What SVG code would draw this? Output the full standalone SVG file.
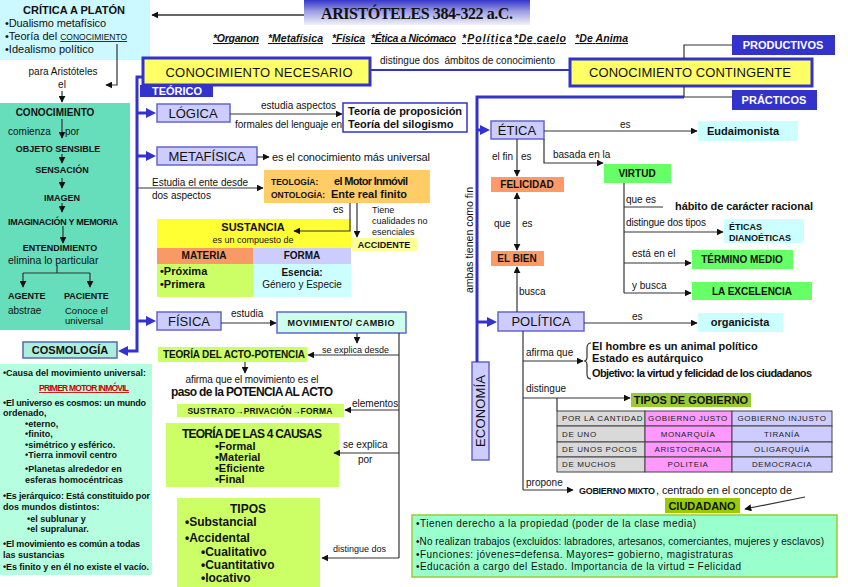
<svg xmlns="http://www.w3.org/2000/svg" width="848" height="587" viewBox="0 0 848 587">
<defs>
<style>
text{font-family:"Liberation Sans",Arial,sans-serif;fill:#111;font-size:10px}
.b{font-weight:bold}
.m{text-anchor:middle}
.ln{fill:none;stroke:#333;stroke-width:1.2}
.bl{fill:none;stroke:#3333cc;stroke-width:3}
.lav{fill:#ccccff;stroke:#6666cc;stroke-width:1.5}
.yel{fill:#ffff66;stroke:#3333cc;stroke-width:3}
.dk{fill:#3333cc}
.wt{fill:#fff;font-weight:bold;font-size:11px}
.cy{fill:#ccffff}
.lg{fill:#ccff66}
.gr{fill:#66ff66}
.sa{fill:#ff9966}
.big{font-size:13px}
.ck{font-size:9px;font-weight:bold}
.tb{font-size:8px;letter-spacing:0.6px;fill:#222}
.it{font-size:10.5px;font-weight:bold;font-style:italic;text-decoration:underline}
.cs{font-size:9px;font-weight:bold}
</style>
<marker id="ah" viewBox="0 0 10 10" refX="9" refY="5" markerWidth="7" markerHeight="7" markerUnits="userSpaceOnUse" orient="auto"><path d="M0,0 L10,5 L0,10 z" fill="#111"/></marker>
<marker id="ah2" viewBox="0 0 10 10" refX="9" refY="5" markerWidth="7" markerHeight="7" markerUnits="userSpaceOnUse" orient="auto-start-reverse"><path d="M0,0 L10,5 L0,10 z" fill="#111"/></marker>
<marker id="bh" viewBox="0 0 10 10" refX="3" refY="5" markerWidth="10" markerHeight="10" markerUnits="userSpaceOnUse" orient="auto"><path d="M0,0 L10,5 L0,10 z" fill="#3333cc"/></marker>
<linearGradient id="tg" x1="0" y1="0" x2="0" y2="1"><stop offset="0" stop-color="#3535cc"/><stop offset="0.45" stop-color="#9c9ce2"/><stop offset="1" stop-color="#f2f2f8"/></linearGradient>
</defs>
<rect width="848" height="587" fill="#fff"/>

<g id="critica">
<rect x="0" y="0" width="150" height="60" fill="#ccf8ff"/>
<text x="74" y="14" class="m b" style="font-size:11px">CRÍTICA A PLATÓN</text>
<text x="5" y="27" style="font-size:11px" textLength="101">•Dualismo metafísico</text>
<text x="5" y="40" style="font-size:11px">•Teoría del <tspan style="font-size:8.5px;text-decoration:underline">CONOCIMIENTO</tspan></text>
<text x="5" y="53" style="font-size:11px">•Idealismo político</text>
</g>
<g id="title">
<rect x="304" y="0" width="226" height="25" fill="url(#tg)"/>
<text x="417" y="19" class="m b" style="font-family:'Liberation Serif','Times New Roman',serif;font-size:16px" textLength="192">ARISTÓTELES 384-322 a.C.</text>
</g>
<g id="obras">
<text x="213" y="42" class="it" textLength="46">*Organon</text>
<text x="268" y="42" class="it" textLength="55">*Metafísica</text>
<text x="332" y="42" class="it" textLength="33">*Física</text>
<text x="371" y="42" class="it" textLength="85">*Ética a Nicómaco</text>
<text x="462" y="42" class="it" textLength="50">*Política</text>
<text x="514" y="42" class="it" textLength="52">*De caelo</text>
<text x="575" y="42" class="it" textLength="53">*De Anima</text>
</g>
<g id="para">
<text x="63" y="75" class="m">para Aristóteles</text>
<text x="62" y="88" class="m">el</text>
</g>
<g id="conocimiento">
<rect x="0" y="103" width="130" height="227" fill="#66ddbb"/>
<text x="55" y="116" class="m b">CONOCIMIENTO</text>
<text x="8" y="135">comienza</text>
<text x="65" y="135">por</text>
<text x="58" y="152" class="m ck">OBJETO SENSIBLE</text>
<text x="62" y="173" class="m ck">SENSACIÓN</text>
<text x="62" y="201" class="m ck">IMAGEN</text>
<text x="63" y="225" class="m ck" textLength="110">IMAGINACIÓN Y MEMORIA</text>
<text x="60" y="251" class="m ck">ENTENDIMIENTO</text>
<text x="8" y="264" style="font-size:10.5px">elimina lo particular</text>
<text x="8" y="299" class="ck">AGENTE</text>
<text x="64" y="299" class="ck">PACIENTE</text>
<text x="8" y="314">abstrae</text>
<text x="65" y="314" style="font-size:9.5px">Conoce el</text>
<text x="65" y="324" style="font-size:9.5px">universal</text>
</g>
<g id="cosmologia">
<rect x="23" y="342" width="94" height="16" fill="#aaeedd" stroke="#5a6aa8" stroke-width="1.5"/>
<text x="70" y="354" class="m b" style="font-size:11px">COSMOLOGÍA</text>
</g>
<g id="cosmologia-texto">
<rect x="0" y="364" width="152" height="211" fill="#b5ffe0"/>
<text x="3" y="376" class="cs" textLength="143">•Causa del movimiento universal:</text>
<text x="84" y="391" class="m cs" style="fill:#cc0000;text-decoration:underline;font-size:8.5px" textLength="90">PRIMER MOTOR INMÓVIL</text>
<text x="3" y="406" class="cs" textLength="143">•El universo es cosmos: un mundo</text>
<text x="3" y="416" class="cs">ordenado,</text>
<text x="25" y="427" class="cs">•eterno,</text>
<text x="25" y="437" class="cs">•finito,</text>
<text x="25" y="448" class="cs">•simétrico y esférico.</text>
<text x="25" y="458" class="cs">•Tierra inmovil centro</text>
<text x="25" y="472" class="cs">•Planetas alrededor en</text>
<text x="25" y="483" class="cs">esferas homocéntricas</text>
<text x="3" y="499" class="cs" textLength="147">•Es jerárquico: Está constituido por</text>
<text x="3" y="510" class="cs">dos mundos distintos:</text>
<text x="27" y="522" class="cs">•el sublunar y</text>
<text x="27" y="532" class="cs">•el supralunar.</text>
<text x="3" y="547" class="cs" textLength="137">•El movimiento es común a todas</text>
<text x="3" y="558" class="cs">las sustancias</text>
<text x="3" y="570" class="cs" textLength="146">•Es finito y en él no existe el vacío.</text>
</g>

<g id="necesario">
<rect x="143" y="58" width="227" height="27" class="yel"/>
<text x="259" y="77" class="m big" textLength="187">CONOCIMIENTO NECESARIO</text>
</g>
<g id="teorico">
<rect x="140" y="85" width="73" height="12" class="dk"/>
<text x="177" y="95" class="m wt">TEÓRICO</text>
</g>
<text x="380" y="64" textLength="175" xml:space="preserve">distingue dos  ámbitos de conocimiento</text>
<g id="contingente">
<rect x="570" y="59" width="242" height="27" class="yel"/>
<text x="690" y="77" class="m big" textLength="202">CONOCIMIENTO CONTINGENTE</text>
</g>
<g id="productivos">
<rect x="732" y="35" width="103" height="20" class="dk"/>
<text x="783" y="49" class="m wt">PRODUCTIVOS</text>
</g>
<g id="practicos">
<rect x="732" y="90" width="85" height="20" class="dk"/>
<text x="774" y="104" class="m wt">PRÁCTICOS</text>
</g>

<g id="logica">
<rect x="157" y="104" width="73" height="18" class="lav"/>
<text x="193" y="118" class="m big">LÓGICA</text>
<text x="261" y="109">estudia aspectos</text>
<text x="235" y="128" textLength="107">formales del lenguaje en</text>
</g>
<g id="teorias">
<rect x="343" y="103" width="124" height="29" fill="#fff" stroke="#3333cc" stroke-width="1.5"/>
<text x="348" y="115" class="b" style="font-size:11px">Teoría de proposición</text>
<text x="348" y="128" class="b" style="font-size:11px">Teoría del silogismo</text>
</g>
<g id="metafisica">
<rect x="157" y="147" width="100" height="18" class="lav"/>
<text x="207" y="161" class="m big">METAFÍSICA</text>
<text x="272" y="161" style="font-size:11px" textLength="158">es el conocimiento más universal</text>
<text x="152" y="186">Estudia el ente desde</text>
<text x="152" y="199">dos aspectos</text>
</g>
<g id="teologia">
<rect x="264" y="170" width="166" height="33" fill="#ffcc66"/>
<text x="271" y="185" class="b" style="font-size:8.5px">TEOLOGÍA:</text>
<text x="334" y="185" class="b" style="font-size:11px" textLength="74">el Motor Inmóvil</text>
<text x="271" y="198" class="b" style="font-size:8.5px">ONTOLOGÍA:</text>
<text x="331" y="198" class="b" style="font-size:11px" textLength="76">Ente real finito</text>
<text x="333" y="213">es</text>
<text x="372" y="213" style="font-size:9px">Tiene</text>
<text x="372" y="224" style="font-size:9px">cualidades no</text>
<text x="372" y="235" style="font-size:9px">esenciales</text>
</g>
<g id="accidente">
<rect x="352" y="238" width="65" height="13" fill="#ffff99"/>
<text x="384" y="248" class="m ck">ACCIDENTE</text>
</g>
<g id="sustancia">
<rect x="157" y="219" width="194" height="29" fill="#ffff33"/>
<text x="253" y="231" class="m b" style="font-size:11px">SUSTANCIA</text>
<text x="253" y="243" class="m" style="font-size:9px">es un compuesto de</text>
<rect x="157" y="248" width="96" height="16" fill="#f99a66"/>
<text x="204" y="259" class="m b">MATERIA</text>
<rect x="253" y="248" width="98" height="16" fill="#ccccff"/>
<text x="302" y="259" class="m b">FORMA</text>
<rect x="157" y="264" width="96" height="33" class="lg"/>
<text x="160" y="275" class="b" style="font-size:11px">•Próxima</text>
<text x="160" y="288" class="b" style="font-size:11px">•Primera</text>
<rect x="253" y="264" width="98" height="33" class="cy"/>
<text x="302" y="276" class="m b">Esencia:</text>
<text x="302" y="288" class="m">Género y Especie</text>
</g>

<g id="fisica">
<rect x="157" y="312" width="64" height="18" class="lav"/>
<text x="189" y="326" class="m big">FÍSICA</text>
<text x="231" y="317">estudia</text>
</g>
<g id="movimiento">
<rect x="277" y="312" width="129" height="21" fill="#ccffee" stroke="#6666cc" stroke-width="1.5"/>
<text x="341" y="326" class="m ck" textLength="107">MOVIMIENTO/ CAMBIO</text>
<text x="322" y="353" style="font-size:9px">se explica desde</text>
<text x="352" y="407">elementos</text>
<text x="343" y="448">se explica</text>
<text x="358" y="463">por</text>
<text x="333" y="552" style="font-size:9px">distingue dos</text>
</g>
<g id="acto-potencia">
<rect x="158" y="347" width="149" height="15" class="lg"/>
<text x="163" y="358" class="b" textLength="142">TEORÍA DEL ACTO-POTENCIA</text>
<text x="252" y="383" class="m" textLength="133">afirma que el movimiento es el</text>
<text x="252" y="396" class="m b" style="font-size:12px" textLength="162">paso de la POTENCIA AL ACTO</text>
</g>
<g id="sustrato">
<rect x="177" y="404" width="167" height="13" class="lg"/>
<text x="260" y="414" class="m b" style="font-size:8.5px" textLength="145">SUSTRATO→PRIVACIÓN→FORMA</text>
</g>
<g id="causas">
<rect x="166" y="423" width="173" height="64" class="lg"/>
<text x="252" y="438" class="m b" style="font-size:12px" textLength="140">TEORÍA DE LAS 4 CAUSAS</text>
<text x="215" y="450" class="b" style="font-size:11px">•Formal</text>
<text x="215" y="461" class="b" style="font-size:11px">•Material</text>
<text x="215" y="472" class="b" style="font-size:11px">•Eficiente</text>
<text x="215" y="483" class="b" style="font-size:11px">•Final</text>
</g>
<g id="tipos">
<rect x="177" y="498" width="143" height="89" class="lg"/>
<text x="248" y="513" class="m b" style="font-size:12px">TIPOS</text>
<text x="185" y="526" class="b" style="font-size:12px">•Substancial</text>
<text x="185" y="542" class="b" style="font-size:12px">•Accidental</text>
<text x="201" y="556" class="b" style="font-size:12px">•Cualitativo</text>
<text x="201" y="569" class="b" style="font-size:12px">•Cuantitativo</text>
<text x="201" y="582" class="b" style="font-size:12px">•locativo</text>
</g>

<text transform="translate(473,240) rotate(-90)" class="m" style="font-size:10.5px" textLength="106">ambas tienen como fin</text>
<g id="etica">
<rect x="491" y="121" width="53" height="18" class="lav"/>
<text x="517" y="135" class="m big">ÉTICA</text>
<text x="620" y="128">es</text>
<text x="553" y="158">basada en la</text>
<text x="492" y="160">el fin</text>
<text x="521" y="160">es</text>
</g>
<g id="eudaimonista">
<rect x="698" y="121" width="100" height="20" class="cy"/>
<text x="707" y="135" class="b" style="font-size:11px">Eudaimonista</text>
</g>
<g id="virtud">
<rect x="604" y="164" width="67" height="19" class="gr"/>
<text x="637" y="177" class="m b">VIRTUD</text>
<text x="626" y="203">que es</text>
<text x="675" y="210" class="b" style="font-size:11px" textLength="138">hábito de carácter racional</text>
<text x="626" y="226" textLength="80">distingue dos tipos</text>
<text x="632" y="257">está en el</text>
<text x="632" y="289">y busca</text>
</g>
<g id="felicidad">
<rect x="491" y="177" width="73" height="15" class="sa"/>
<text x="527" y="188" class="m b">FELICIDAD</text>
<text x="494" y="227">que</text>
<text x="522" y="227">es</text>
</g>
<g id="bien">
<rect x="491" y="251" width="53" height="15" class="sa"/>
<text x="517" y="262" class="m b">EL BIEN</text>
<text x="519" y="295">busca</text>
</g>
<g id="dianoeticas">
<rect x="724" y="219" width="80" height="24" class="cy"/>
<text x="729" y="230" class="ck">ÉTICAS</text>
<text x="729" y="241" class="ck">DIANOÉTICAS</text>
</g>
<g id="termino-medio">
<rect x="692" y="250" width="101" height="19" class="gr"/>
<text x="742" y="263" class="m b">TÉRMINO MEDIO</text>
</g>
<g id="excelencia">
<rect x="692" y="282" width="120" height="18" class="gr"/>
<text x="752" y="295" class="m b">LA EXCELENCIA</text>
</g>

<g id="politica">
<rect x="498" y="312" width="86" height="19" class="lav"/>
<text x="541" y="326" class="m big">POLÍTICA</text>
<text x="632" y="320">es</text>
<text x="526" y="356">afirma que</text>
<text x="526" y="392">distingue</text>
<text x="526" y="486">propone</text>
</g>
<g id="organicista">
<rect x="698" y="313" width="85" height="19" class="cy"/>
<text x="740" y="326" class="m b" style="font-size:11px">organicista</text>
</g>
<g id="afirmaciones">
<text x="592" y="350" class="b" style="font-size:11px">El hombre es un animal político</text>
<text x="592" y="362" class="b" style="font-size:11px">Estado es autárquico</text>
<text x="592" y="377" class="b" style="font-size:11px" textLength="220">Objetivo: la virtud y felicidad de los ciudadanos</text>
</g>
<g id="economia">
<rect x="472" y="362" width="17" height="98" class="lav"/>
<text transform="translate(485,411) rotate(-90)" class="m big" textLength="72">ECONOMÍA</text>
</g>
<g id="tipos-gobierno">
<rect x="631" y="393" width="120" height="14" fill="#99cc33"/>
<text x="691" y="404" class="m b" style="font-size:11px">TIPOS DE GOBIERNO</text>
</g>
<g id="tabla" stroke="#444" stroke-width="1">
<rect x="557" y="411" width="88" height="15" fill="#d9d9d9"/>
<rect x="645" y="411" width="87" height="15" fill="#ff99ff"/>
<rect x="732" y="411" width="100" height="15" fill="#ccccff"/>
<rect x="557" y="426" width="88" height="16" fill="#d9d9d9"/>
<rect x="645" y="426" width="87" height="16" fill="#ff99ff"/>
<rect x="732" y="426" width="100" height="16" fill="#ccccff"/>
<rect x="557" y="442" width="88" height="15" fill="#d9d9d9"/>
<rect x="645" y="442" width="87" height="15" fill="#ff99ff"/>
<rect x="732" y="442" width="100" height="15" fill="#ccccff"/>
<rect x="557" y="457" width="88" height="15" fill="#d9d9d9"/>
<rect x="645" y="457" width="87" height="15" fill="#ff99ff"/>
<rect x="732" y="457" width="100" height="15" fill="#ccccff"/>
<g stroke="none">
<text x="562" y="421" class="tb">POR LA CANTIDAD</text>
<text x="688" y="421" class="m tb">GOBIERNO JUSTO</text>
<text x="782" y="421" class="m tb">GOBIERNO INJUSTO</text>
<text x="562" y="437" class="tb">DE UNO</text>
<text x="688" y="437" class="m tb">MONARQUÍA</text>
<text x="782" y="437" class="m tb">TIRANÍA</text>
<text x="562" y="452" class="tb">DE UNOS POCOS</text>
<text x="688" y="452" class="m tb">ARISTOCRACIA</text>
<text x="782" y="452" class="m tb">OLIGARQUÍA</text>
<text x="562" y="467" class="tb">DE MUCHOS</text>
<text x="688" y="467" class="m tb">POLITEIA</text>
<text x="782" y="467" class="m tb">DEMOCRACIA</text>
</g>
</g>
<g id="gobierno-mixto">
<text x="579" y="494" class="b" style="font-size:9px" textLength="76">GOBIERNO MIXTO</text>
<text x="656" y="494" style="font-size:11px" textLength="136">, centrado en el concepto de</text>
</g>
<g id="ciudadano">
<rect x="665" y="498" width="75" height="15" fill="#99cc00"/>
<text x="702" y="510" class="m b" style="font-size:11px">CIUDADANO</text>
</g>
<g id="ciudadano-texto">
<rect x="412" y="515" width="425" height="62" fill="#99ffcc" stroke="#99cc33" stroke-width="1.5"/>
<text x="416" y="527" textLength="280">•Tienen derecho a la propiedad (poder de la clase media)</text>
<text x="416" y="545" textLength="408">•No realizan trabajos (excluidos: labradores, artesanos, comerciantes, mujeres y esclavos)</text>
<text x="416" y="558" textLength="317">•Funciones: jóvenes=defensa. Mayores= gobierno, magistraturas</text>
<text x="416" y="570" textLength="325">•Educación a cargo del Estado. Importancia de la virtud = Felicidad</text>
</g>

<g id="connectors">
<line class="ln" x1="304" y1="15" x2="152" y2="15" marker-end="url(#ah)" style="stroke-width:1.5"/>
<polyline class="ln" points="117,44 117,85 106,85" marker-end="url(#ah)"/>
<line class="ln" x1="62" y1="91" x2="62" y2="102" marker-end="url(#ah)"/>
<line class="ln" x1="62" y1="119" x2="62" y2="138" marker-end="url(#ah)"/>
<line class="ln" x1="62" y1="154" x2="62" y2="163" marker-end="url(#ah)"/>
<line class="ln" x1="62" y1="178" x2="62" y2="188" marker-end="url(#ah)"/>
<line class="ln" x1="62" y1="203" x2="62" y2="212" marker-end="url(#ah)"/>
<line class="ln" x1="63" y1="226" x2="63" y2="243" marker-end="url(#ah)"/>
<polyline class="ln" points="57,265 57,273"/>
<line class="ln" x1="23" y1="273" x2="90" y2="273"/>
<line class="ln" x1="23" y1="273" x2="23" y2="287" marker-end="url(#ah)"/>
<line class="ln" x1="90" y1="273" x2="90" y2="287" marker-end="url(#ah)"/>

<polyline class="bl" points="143,77 137,77 137,351 125,351" marker-end="url(#bh)"/>
<line class="bl" x1="137" y1="113" x2="149" y2="113" marker-end="url(#bh)"/>
<line class="bl" x1="137" y1="156" x2="149" y2="156" marker-end="url(#bh)"/>
<line class="bl" x1="137" y1="321" x2="149" y2="321" marker-end="url(#bh)"/>
<line x1="370" y1="70" x2="570" y2="70" stroke="#3333cc" stroke-width="2"/>
<polyline class="bl" points="684,97 477,97 477,362"/>
<line class="bl" x1="477" y1="130" x2="483" y2="130" marker-end="url(#bh)"/>
<line class="bl" x1="477" y1="322" x2="490" y2="322" marker-end="url(#bh)"/>
<polyline class="ln" points="684,59 684,45 732,45"/>
<polyline class="ln" points="684,86 684,97 732,97"/>

<line class="ln" x1="230" y1="114" x2="342" y2="114" marker-end="url(#ah)"/>
<line class="ln" x1="257" y1="157" x2="269" y2="157" marker-end="url(#ah)"/>
<line class="ln" x1="137" y1="188" x2="263" y2="188" marker-end="url(#ah)"/>
<polyline class="ln" points="350,203 350,231 294,231" marker-end="url(#ah)"/>
<line class="ln" x1="357" y1="203" x2="357" y2="237" marker-end="url(#ah)"/>

<line class="ln" x1="221" y1="323" x2="276" y2="323" marker-end="url(#ah)"/>
<line class="ln" x1="357" y1="333" x2="357" y2="343" marker-end="url(#ah)"/>
<line class="ln" x1="399" y1="333" x2="399" y2="558"/>
<line class="ln" x1="399" y1="355" x2="308" y2="355" marker-end="url(#ah)"/>
<line class="ln" x1="245" y1="362" x2="245" y2="373" marker-end="url(#ah)"/>
<line class="ln" x1="399" y1="410" x2="345" y2="410" marker-end="url(#ah)"/>
<line class="ln" x1="399" y1="453" x2="334" y2="453" marker-end="url(#ah)"/>
<line class="ln" x1="399" y1="558" x2="322" y2="558" marker-end="url(#ah)"/>

<line class="ln" x1="544" y1="131" x2="697" y2="131" marker-end="url(#ah)"/>
<polyline class="ln" points="544,139 544,163 603,163" marker-end="url(#ah)"/>
<line class="ln" x1="517" y1="139" x2="517" y2="176" marker-end="url(#ah)"/>
<line class="ln" x1="517" y1="193" x2="517" y2="250" marker-start="url(#ah2)" marker-end="url(#ah)"/>
<line class="ln" x1="517" y1="312" x2="517" y2="267" marker-end="url(#ah)"/>
<line class="ln" x1="624" y1="183" x2="624" y2="293"/>
<line class="ln" x1="624" y1="207" x2="663" y2="207"/>
<line class="ln" x1="624" y1="232" x2="723" y2="232" marker-end="url(#ah)"/>
<line class="ln" x1="624" y1="263" x2="691" y2="263" marker-end="url(#ah)"/>
<line class="ln" x1="624" y1="293" x2="691" y2="293" marker-end="url(#ah)"/>

<line class="ln" x1="584" y1="323" x2="697" y2="323" marker-end="url(#ah)"/>
<line class="ln" x1="523" y1="331" x2="523" y2="490"/>
<line class="ln" x1="523" y1="361" x2="583" y2="361" marker-end="url(#ah)"/>
<path class="ln" d="M591,343 q-4,0 -4,5 v9 q0,4 -3,4 q3,0 3,4 v9 q0,5 4,5"/>
<line class="ln" x1="523" y1="398" x2="630" y2="398" marker-end="url(#ah)"/>
<line class="ln" x1="557" y1="398" x2="557" y2="411"/>
<line class="ln" x1="523" y1="490" x2="573" y2="490" marker-end="url(#ah)"/>
<line class="ln" x1="805" y1="497" x2="745" y2="509" marker-end="url(#ah)"/>
</g>
</svg>
